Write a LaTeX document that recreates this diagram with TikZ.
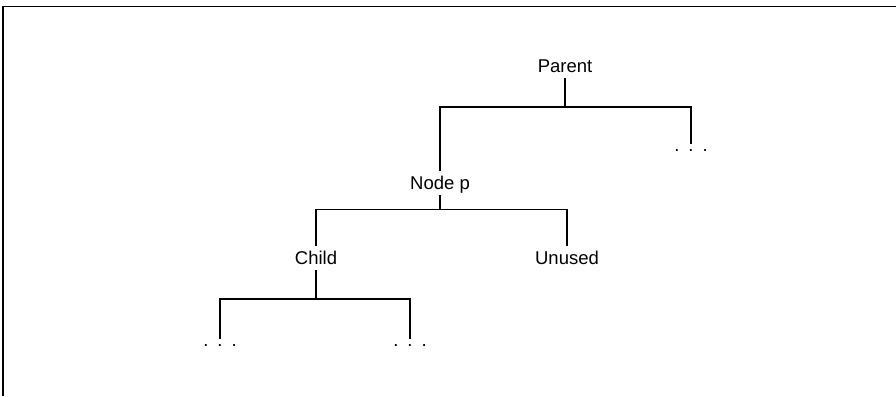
\documentclass[tikz,border=0pt]{standalone}
\usepackage{fontspec}
\setmainfont{Liberation Sans}
\begin{document}
\begin{tikzpicture}[x=1pt,y=-1pt,
  lbl/.style={font=\fontsize{18.5}{20}\selectfont, text height=17pt, text depth=5pt, inner ysep=1pt, inner xsep=2pt},
  dotsnode/.style={font=\fontsize{18.5}{20}\selectfont, text height=2pt, text depth=0pt, inner xsep=0pt, inner ysep=5pt},
  conn/.style={line width=1.2pt},
  frame/.style={line width=1.4pt}]
\useasboundingbox (0,0) rectangle (896,396);
\draw[frame] (3,396) -- (3,6.5) -- (896,6.5);
\node[lbl] (parent) at (565,66) {Parent};
\node[lbl] (nodep) at (440,183) {Node p};
\node[dotsnode] (dotsA) at (691,150) {.\hspace{9pt}.\hspace{9pt}.};
\node[lbl] (child) at (316,258) {Child};
\node[lbl] (unused) at (567,258) {Unused};
\node[dotsnode] (dotsB) at (220,345) {.\hspace{9pt}.\hspace{9pt}.};
\node[dotsnode] (dotsC) at (410,345) {.\hspace{9pt}.\hspace{9pt}.};
\coordinate (j1) at (565,107);
\coordinate (j2) at (440,209.5);
\coordinate (j3) at (316,299);
\draw[conn] (parent.south) -- (j1);
\draw[conn] (nodep.north) |- (j1) -| (dotsA.north);
\draw[conn] (nodep.south) -- (j2);
\draw[conn] (child.north) |- (j2) -| (unused.north);
\draw[conn] (child.south) -- (j3);
\draw[conn] (dotsB.north) |- (j3) -| (dotsC.north);
\end{tikzpicture}
\end{document}
